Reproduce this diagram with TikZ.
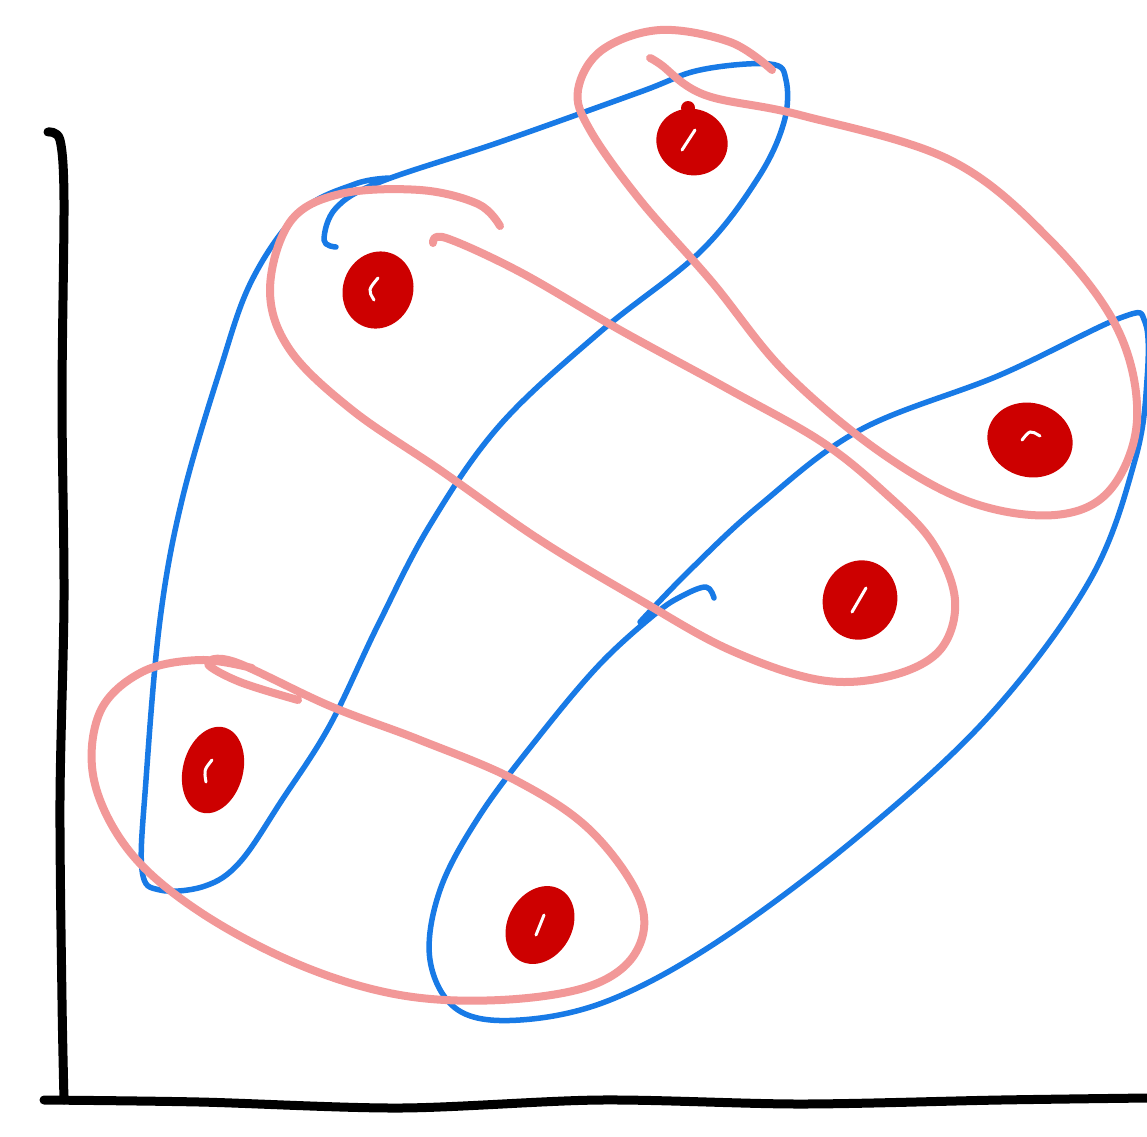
\documentclass[tikz,border=0pt]{standalone}
\usetikzlibrary{shapes.geometric}
\definecolor{sblue}{RGB}{24,122,230}
\definecolor{spink}{RGB}{242,152,152}
\definecolor{sred}{RGB}{205,0,0}
\tikzset{
  axisline/.style={line width=9pt, black, line cap=round, line join=round},
  blueloop/.style={line width=5.5pt, sblue, line cap=round, line join=round},
  pinkloop/.style={line width=8pt, spink, line cap=round, line join=round},
  dot/.style={ellipse, fill=sred, draw=none, inner sep=0pt},
  shine/.style={white, line width=3pt, line cap=round}
}
\begin{document}
\begin{tikzpicture}[x=1pt,y=-1pt]
\useasboundingbox (0,0) rectangle (1147,1136);
\fill[white] (0,0) rectangle (1147,1136);
% axes
\draw[axisline] plot[smooth] coordinates {(48,132) (60,140) (64,200) (62,400) (64,600) (60,800) (62,1000) (64,1100)};
\draw[axisline] plot[smooth] coordinates {(44,1100) (200,1102) (400,1108) (600,1100) (800,1104) (1000,1100) (1147,1098)};
% blue loops
\draw[blueloop] plot[smooth, tension=0.6] coordinates {(336,247) (324,240) (336,208) (380,182) (500,142) (640,92) (700,70) (770,64) (786,80) (784,122) (758,178) (700,252) (600,332) (500,425) (430,525) (378,625) (330,725) (282,800) (240,862) (205,886) (160,890) (142,870) (146,780) (160,620) (182,500) (220,370) (252,280) (300,212) (355,184) (390,178)};
\draw[blueloop] plot[smooth, tension=0.6] coordinates {(714,598) (706,587) (682,596) (655,614) (600,664) (540,735) (480,815) (440,890) (430,960) (458,1010) (520,1020) (610,1000) (720,940) (860,835) (990,715) (1090,580) (1135,460) (1147,380) (1145,322) (1120,318) (1000,375) (860,430) (760,505) (690,570) (640,622)};
% pink loops
\draw[pinkloop] plot[smooth, tension=0.6] coordinates {(650,58) (660,64) (705,95) (800,115) (950,160) (1050,240) (1118,330) (1137,420) (1110,490) (1055,515) (970,502) (880,452) (785,372) (712,282) (640,200) (590,130) (578,90) (602,50) (660,30) (730,42) (772,70)};
\draw[pinkloop] plot[smooth, tension=0.6] coordinates {(433,243) (446,238) (520,272) (620,330) (730,390) (822,442) (884,492) (932,542) (955,600) (940,650) (890,676) (820,680) (730,650) (640,600) (540,540) (440,470) (352,410) (290,350) (270,290) (290,222) (340,194) (420,190) (478,204) (500,226)};
\draw[pinkloop] plot[smooth, tension=0.6] coordinates {(298,700) (240,682) (208,664) (235,662) (330,706) (420,740) (515,780) (590,830) (640,900) (636,952) (590,986) (500,1000) (400,995) (300,965) (200,912) (130,852) (94,780) (100,712) (142,672) (200,660) (252,668)};
% dots
\node[dot, minimum width=72pt, minimum height=66pt, rotate=-20] (d1) at (692,142) {};
\node[dot, minimum width=70pt, minimum height=78pt, rotate=-20] (d2) at (378,290) {};
\node[dot, minimum width=86pt, minimum height=74pt, rotate=-15] (d3) at (1030,440) {};
\node[dot, minimum width=74pt, minimum height=80pt, rotate=-20] (d4) at (860,600) {};
\node[dot, minimum width=60pt, minimum height=88pt, rotate=-15] (d5) at (213,770) {};
\node[dot, minimum width=64pt, minimum height=82pt, rotate=-30] (d6) at (540,925) {};
\fill[sred] (688,108) circle (7);
% shines
\draw[shine] (682,150) -- (695,130);
\draw[shine] (374,300) .. controls (368,290) .. (378,278);
\draw[shine] (1022,440) .. controls (1030,430) .. (1040,436);
\draw[shine] (852,612) -- (866,588);
\draw[shine] (206,782) .. controls (204,770) .. (212,760);
\draw[shine] (536,935) -- (544,915);
\end{tikzpicture}
\end{document}
